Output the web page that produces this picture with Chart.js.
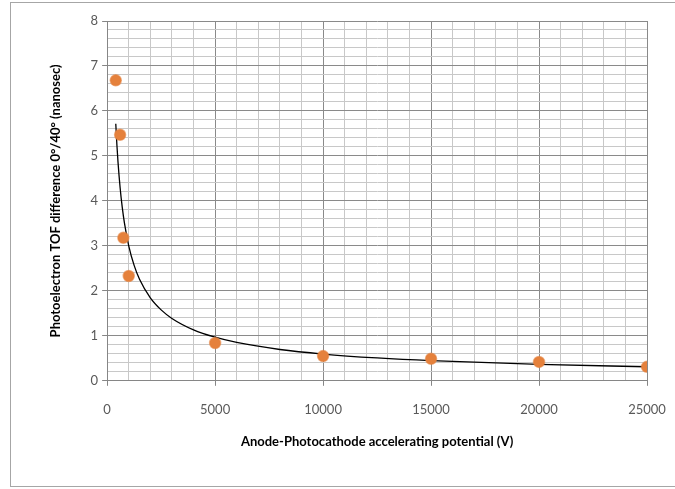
<!DOCTYPE html>
<html>
<head>
<meta charset="utf-8">
<script src="https://cdn.jsdelivr.net/npm/chart.js@4/dist/chart.umd.min.js"></script>
<style>
  html, body { margin: 0; padding: 0; background: #fff; }
  #wrap { position: relative; width: 675px; height: 489px; overflow: hidden; }
  #frame { position: absolute; left: 10px; top: 2px; width: 700px; height: 485px; border: 1px solid #a6a6a6; box-sizing: border-box; }
  #chart { position: absolute; left: 0; top: 0; }
</style>
</head>
<body>
<div id="wrap">
  <div id="frame"></div>
  <canvas id="chart" width="675" height="489"></canvas>
</div>
<script>
// measured points (V, ns)
const voltages = [400, 600, 750, 1000, 5000, 10000, 15000, 20000, 25000];
const tofDiff = [6.68, 5.47, 3.18, 2.33, 0.84, 0.55, 0.49, 0.42, 0.31];
// x positions where the power trendline is sampled
const trendX = [400, 450, 500, 600, 700, 800, 1000, 1250, 1500, 2000, 2500, 3000, 4000, 5000, 6000, 8000, 10000, 12500, 15000, 20000, 25000];

// power trendline (least squares in log-log space, like Excel)
function powerFit(xs, ys) {
    const lx = xs.map(Math.log), ly = ys.map(Math.log);
    const n = xs.length;
    const mx = lx.reduce((a, b) => a + b, 0) / n;
    const my = ly.reduce((a, b) => a + b, 0) / n;
    let sxy = 0, sxx = 0;
    for (let i = 0; i < n; i++) {
        sxy += (lx[i] - mx) * (ly[i] - my);
        sxx += (lx[i] - mx) * (lx[i] - mx);
    }
    const b = sxy / sxx;
    const a = Math.exp(my - b * mx);
    return x => a * Math.pow(x, b);
}
const fit = powerFit(voltages, tofDiff);

const isInt = v => Math.abs(v - Math.round(v)) < 1e-6;
const font = 'Lato, "Liberation Sans", sans-serif';

new Chart(document.getElementById('chart'), {
    type: 'scatter',
    data: {
        datasets: [{
            label: 'trend',
            data: trendX.map(x => ({ x: x, y: fit(x) })),
            showLine: true,
            borderColor: '#000',
            borderWidth: 1.3,
            pointRadius: 0,
            cubicInterpolationMode: 'monotone',
            order: 2
        }, {
            label: 'TOF',
            data: voltages.map((v, i) => ({ x: v, y: tofDiff[i] })),
            backgroundColor: '#e5813c',
            borderColor: 'rgba(229,129,60,0.6)',
            borderWidth: 1.5,
            pointRadius: 5.5,
            order: 1
        }]
    },
    options: {
        responsive: false,
        animation: false,
        layout: { padding: { left: 48, right: 0, top: 21, bottom: 39 } },
        plugins: { legend: { display: false }, tooltip: { enabled: false } },
        scales: {
            x: {
                type: 'linear',
                min: 0, max: 25000,
                // keep the plot reaching as far right as in the original
                afterFit: s => { s.paddingRight = 28; },
                border: { color: '#868686', width: 1 },
                grid: {
                    color: c => (c.tick && c.tick.value % 5000 === 0) ? '#8a8a8a' : '#c8c8c8',
                    tickColor: c => (c.tick && c.tick.value % 5000 === 0) ? '#868686' : 'rgba(0,0,0,0)',
                    tickLength: 5
                },
                ticks: {
                    stepSize: 1000,
                    autoSkip: false,
                    maxRotation: 0,
                    padding: 16,
                    color: '#595959',
                    font: { family: font, size: 13 },
                    callback: v => v % 5000 === 0 ? String(v) : ''
                },
                title: {
                    display: true,
                    text: 'Anode-Photocathode accelerating potential (V)',
                    color: '#000',
                    font: { family: font, size: 13, weight: 'bold' },
                    padding: { top: 1, bottom: 0 }
                }
            },
            y: {
                min: 0, max: 8,
                border: { color: '#868686', width: 1 },
                grid: {
                    color: c => (c.tick && isInt(c.tick.value)) ? '#8a8a8a' : '#c8c8c8',
                    tickColor: c => (c.tick && isInt(c.tick.value)) ? '#868686' : 'rgba(0,0,0,0)',
                    tickLength: 5
                },
                ticks: {
                    stepSize: 0.2,
                    autoSkip: false,
                    padding: 4,
                    color: '#595959',
                    font: { family: font, size: 13 },
                    callback: v => isInt(v) ? String(Math.round(v)) : ''
                },
                title: {
                    display: true,
                    text: 'Photoelectron TOF difference 0°/40° (nanosec)',
                    color: '#000',
                    font: { family: font, size: 13, weight: 'bold' },
                    padding: { top: 0, bottom: 23 }
                }
            }
        }
    }
});
</script>
</body>
</html>
